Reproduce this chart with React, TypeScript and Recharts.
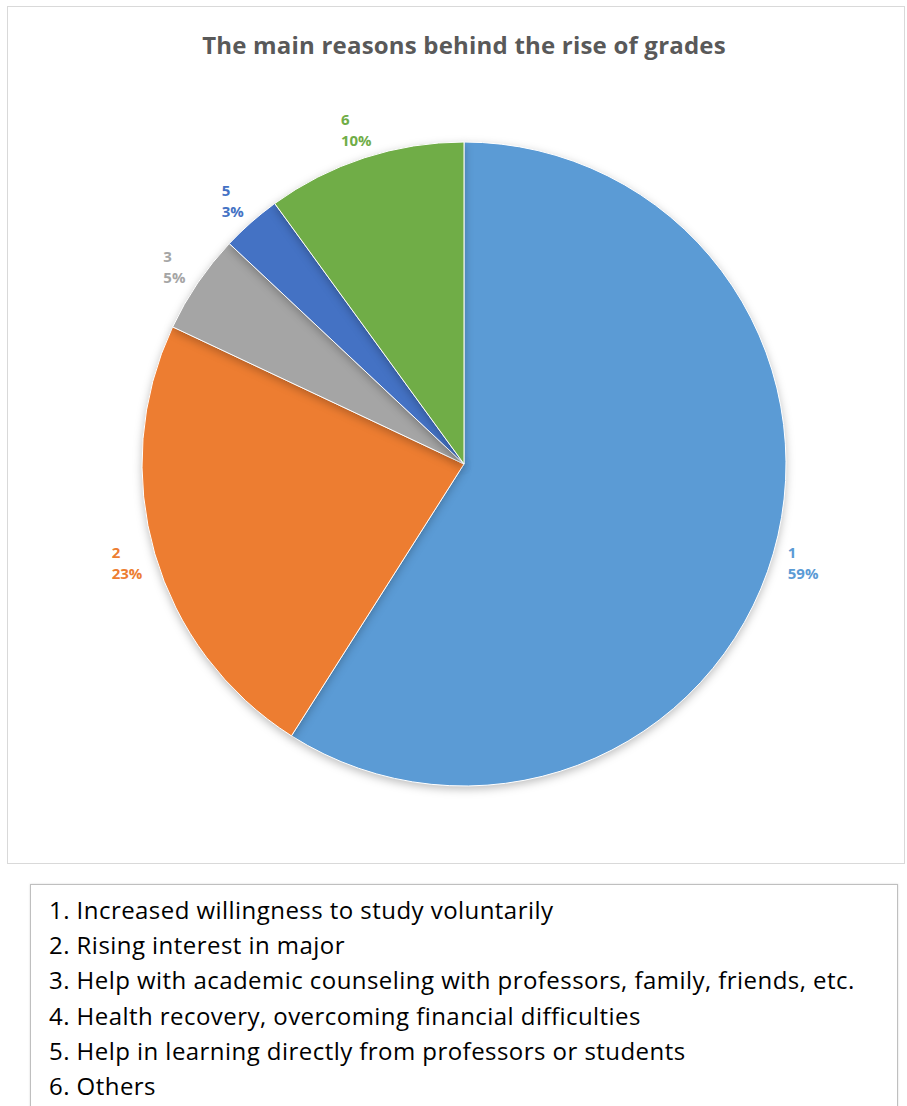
import { PieChart, Pie, Cell } from "recharts";

const categories = ["1", "2", "3", "4", "5", "6"];
const shares = [59, 23, 5, 0, 3, 10];
const colors = ["#5B9BD5", "#ED7D31", "#A5A5A5", "#FFC000", "#4472C4", "#70AD47"];
const legendLines = [
  "1. Increased willingness to study voluntarily",
  "2. Rising interest in major",
  "3. Help with academic counseling with professors, family, friends, etc.",
  "4. Health recovery, overcoming financial difficulties",
  "5. Help in learning directly from professors or students",
  "6. Others",
];
const title = "The main reasons behind the rise of grades";

const data = categories.map((name, i) => ({ name, value: shares[i] }));

const RAD = Math.PI / 180;
const FONT = "'Open Sans', 'Liberation Sans', sans-serif";

// data labels sit just outside the rim, two lines (category / percent), left aligned
function renderLabel(props: any) {
  const { cx, cy, midAngle, outerRadius, index, value } = props;
  if (!value) return null;
  const r = outerRadius + 30;
  const x = cx + r * Math.cos(-midAngle * RAD);
  const y = cy + r * Math.sin(-midAngle * RAD);
  const pct = `${value}%`;
  const w = pct.length * 9.5;
  const left = x - w / 2;
  return (
    <text
      x={left}
      y={y}
      fill={colors[index]}
      fontSize={15}
      fontWeight="bold"
      fontFamily={FONT}
      textAnchor="start"
    >
      <tspan x={left} dy={-4}>
        {categories[index]}
      </tspan>
      <tspan x={left} dy={21}>
        {pct}
      </tspan>
    </text>
  );
}

export default function App() {
  return (
    <div
      style={{
        position: "absolute",
        left: 0,
        top: 0,
        width: 907,
        height: 1106,
        background: "#fff",
        overflow: "hidden",
        fontFamily: FONT,
      }}
    >
      <style>{`.recharts-pie-sector { filter: drop-shadow(0px 3px 4px rgba(0,0,0,0.25)); }`}</style>
      <div
        style={{
          position: "absolute",
          left: 7,
          top: 6,
          width: 896,
          height: 856,
          border: "1px solid #d9d9d9",
        }}
      >
        <div
          style={{
            position: "absolute",
            left: 0,
            top: 21,
            width: 912,
            textAlign: "center",
            fontSize: 24,
            fontWeight: "bold",
            color: "#595959",
            letterSpacing: 0.2,
          }}
        >
          {title}
        </div>
        <PieChart width={896} height={856} margin={{ top: 0, right: 0, bottom: 0, left: 0 }}>
          <Pie
            data={data}
            dataKey="value"
            nameKey="name"
            cx={456}
            cy={457}
            outerRadius={322}
            startAngle={90}
            endAngle={-270}
            stroke="#ffffff"
            strokeWidth={1}
            label={renderLabel}
            labelLine={false}
            isAnimationActive={false}
          >
            {data.map((d, i) => (
              <Cell key={d.name} fill={colors[i]} />
            ))}
          </Pie>
        </PieChart>
      </div>
      <div
        style={{
          position: "absolute",
          left: 30,
          top: 884,
          width: 866,
          height: 260,
          border: "1px solid #bfbfbf",
          boxShadow: "0 0 2px rgba(0,0,0,0.15)",
        }}
      >
        {legendLines.map((line, i) => (
          <div
            key={i}
            style={{
              position: "absolute",
              left: 18,
              top: 9 + i * 35.2,
              fontSize: 24,
              lineHeight: "32px",
              letterSpacing: 0.45,
              color: "#000",
              whiteSpace: "nowrap",
            }}
          >
            {line}
          </div>
        ))}
      </div>
    </div>
  );
}
